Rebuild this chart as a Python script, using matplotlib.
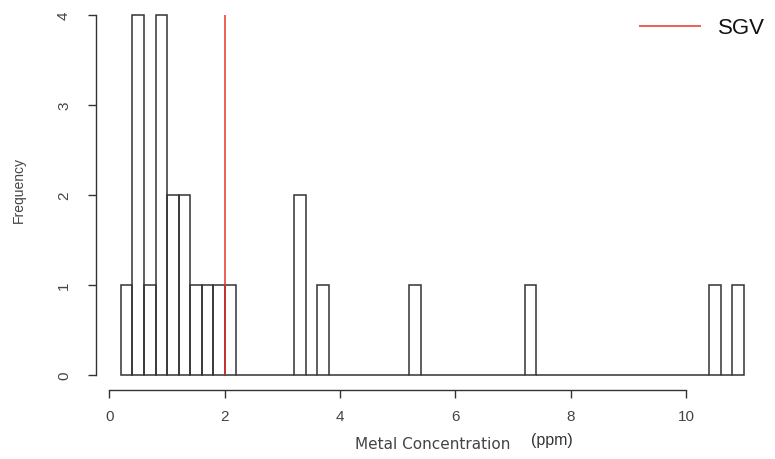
import numpy as np
import matplotlib
matplotlib.use("Agg")
import matplotlib.pyplot as plt

plt.rcParams['font.family'] = ['Liberation Sans', 'DejaVu Sans']

# histogram of metal concentration, bins of 0.2 ppm from 0.2 to 11.0
bin_start = 0.2
bin_width = 0.2
counts = [1, 4, 1, 4, 2, 2, 1, 1, 1, 1,
          0, 0, 0, 0, 0, 2, 0, 1, 0, 0,
          0, 0, 0, 0, 0, 1, 0, 0, 0, 0,
          0, 0, 0, 0, 0, 1, 0, 0, 0, 0,
          0, 0, 0, 0, 0, 0, 0, 0, 0, 0,
          0, 1, 0, 1]
sgv = 2.0
x_ticks = [0, 2, 4, 6, 8, 10]
y_ticks = [0, 1, 2, 3, 4]

lefts = bin_start + bin_width * np.arange(len(counts))

fig = plt.figure(figsize=(7.75, 4.6), dpi=100)
ax = fig.add_axes([96/775, 69.5/460, 672.8/775, 388.8/460])

ax.bar(lefts, counts, width=bin_width, align='edge', fill=False,
       edgecolor='#333333', linewidth=1.1)
ax.vlines(sgv, 0, 4, color='#e8352a', linewidth=1.1, label='SGV')

ax.set_xlim(-0.232, 11.432)
ax.set_ylim(-0.16, 4.16)
for s in ['top', 'right']:
    ax.spines[s].set_visible(False)
ax.spines['left'].set_bounds(0, 4)
ax.spines['bottom'].set_bounds(0, 10)
for s in ['left', 'bottom']:
    ax.spines[s].set_color('#333333')
    ax.spines[s].set_linewidth(1.0)

ax.set_xticks(x_ticks)
ax.set_xticklabels([str(t) for t in x_ticks])
ax.set_yticks(y_ticks)
ax.set_yticklabels([str(t) for t in y_ticks], rotation=90, va='center')
ax.tick_params(axis='x', length=6, width=1.0, color='#333333', pad=8,
               labelsize=11, labelcolor='#444444')
ax.tick_params(axis='y', length=6, width=1.0, color='#333333', pad=12,
               labelsize=11, labelcolor='#444444')

fig.text(19/775, 1 - 190/460, 'Frequency', rotation=90, ha='center',
         va='center', fontsize=10, color='#444444')
fig.text(433/775, 1 - 445/460, 'Metal Concentration', ha='center',
         va='center', fontsize=11, color='#444444', family='DejaVu Sans')
fig.text(552/775, 1 - 441/460, '(ppm)', ha='center', va='center',
         fontsize=11.5, color='#333333')

leg = ax.legend(loc='center right', frameon=False, fontsize=16,
                handlelength=2.8, handletextpad=0.76, borderpad=0,
                borderaxespad=0, bbox_to_anchor=(765/775, 1 - 29/460),
                bbox_transform=fig.transFigure)
for t in leg.get_texts():
    t.set_color('#111111')

fig.savefig('out.png', dpi=100)
